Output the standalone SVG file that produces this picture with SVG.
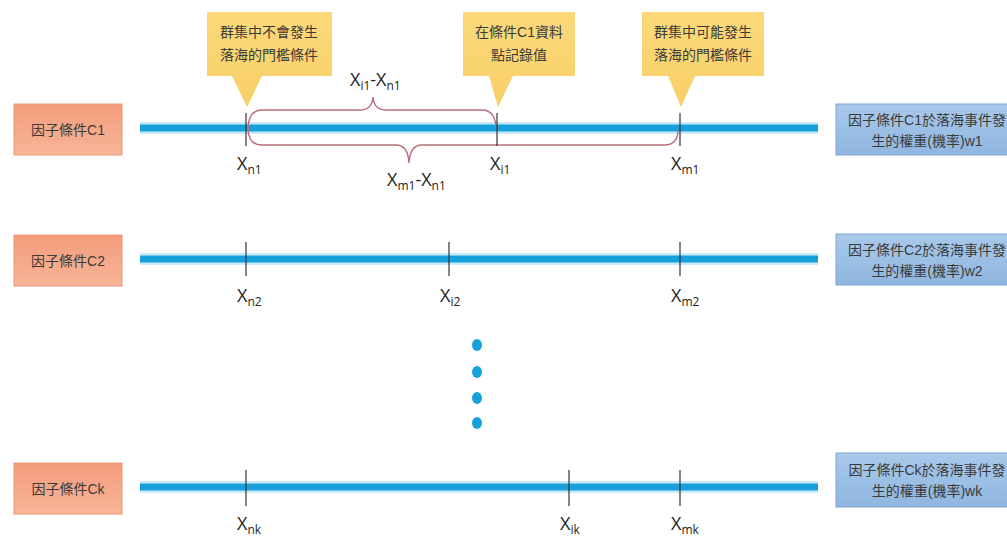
<svg xmlns="http://www.w3.org/2000/svg" width="1007" height="539" viewBox="0 0 1007 539">
<defs>
<linearGradient id="gOrange" x1="0" y1="0" x2="0" y2="1"><stop offset="0" stop-color="#f39c7c"/><stop offset="1" stop-color="#f8b597"/></linearGradient>
<linearGradient id="gBlue" x1="0" y1="0" x2="0" y2="1"><stop offset="0" stop-color="#a9c9ea"/><stop offset="1" stop-color="#8fb6e0"/></linearGradient>
<linearGradient id="gYellow" x1="0" y1="0" x2="0" y2="1"><stop offset="0" stop-color="#fbd97a"/><stop offset="1" stop-color="#f8cf68"/></linearGradient>
</defs>
<style>
.cjk{font-family:"Liberation Sans","Noto Sans CJK TC",sans-serif;fill:#3a3a3a}
.lbl{font-family:"Open Sans","Liberation Sans",sans-serif;font-size:18px;fill:#222}
.sub{font-size:12px}
.halo{stroke:#c9ebf8;stroke-width:12;fill:none}
.axis{stroke:#16a1dc;stroke-width:7;fill:none}
.tick{stroke:#333;stroke-width:1.2}
.brace{stroke:#b8707c;stroke-width:1.4;fill:none}
.lbox{fill:url(#gOrange);stroke:#e89a78;stroke-width:1}
.rbox{fill:url(#gBlue);stroke:#7ea6d3;stroke-width:1}
.callout{fill:url(#gYellow);stroke:none}
</style>

<g id="connectors">
<line class="halo" x1="140" y1="128" x2="818" y2="128"/>
<line class="axis" x1="140" y1="128" x2="818" y2="128"/>
<line class="halo" x1="140" y1="259" x2="818" y2="259"/>
<line class="axis" x1="140" y1="259" x2="818" y2="259"/>
<line class="halo" x1="140" y1="487" x2="818" y2="487"/>
<line class="axis" x1="140" y1="487" x2="818" y2="487"/>
<path class="brace" d="M248,130 Q248,110 262,110 L360,110 Q372,110 373,97 Q374,110 386,110 L482,110 Q496,110 496,130"/>
<path class="brace" d="M248,128 Q248,145 262,145 L396,145 Q408,145 409,163 Q410,145 422,145 L664,145 Q678,145 678,130"/>
</g>

<g id="ticks">
<line class="tick" x1="246" y1="113" x2="246" y2="146"/>
<line class="tick" x1="497" y1="113" x2="497" y2="146"/>
<line class="tick" x1="680" y1="113" x2="680" y2="146"/>
<line class="tick" x1="246" y1="242" x2="246" y2="276"/>
<line class="tick" x1="449" y1="242" x2="449" y2="276"/>
<line class="tick" x1="680" y1="242" x2="680" y2="276"/>
<line class="tick" x1="246" y1="470" x2="246" y2="506"/>
<line class="tick" x1="569" y1="470" x2="569" y2="506"/>
<line class="tick" x1="680" y1="470" x2="680" y2="506"/>
</g>

<g id="tick-labels">
<text class="lbl" x="237" y="170">X<tspan class="sub" dy="4">n1</tspan></text>
<text class="lbl" x="490" y="170">X<tspan class="sub" dy="4">i1</tspan></text>
<text class="lbl" x="671" y="170">X<tspan class="sub" dy="4">m1</tspan></text>
<text class="lbl" x="350" y="86">X<tspan class="sub" dy="4">i1</tspan><tspan dy="-4">-X</tspan><tspan class="sub" dy="4">n1</tspan></text>
<text class="lbl" x="387" y="186">X<tspan class="sub" dy="4">m1</tspan><tspan dy="-4">-X</tspan><tspan class="sub" dy="4">n1</tspan></text>
<text class="lbl" x="237" y="302">X<tspan class="sub" dy="4">n2</tspan></text>
<text class="lbl" x="440" y="302">X<tspan class="sub" dy="4">i2</tspan></text>
<text class="lbl" x="671" y="302">X<tspan class="sub" dy="4">m2</tspan></text>
<text class="lbl" x="237" y="530">X<tspan class="sub" dy="4">nk</tspan></text>
<text class="lbl" x="560" y="530">X<tspan class="sub" dy="4">ik</tspan></text>
<text class="lbl" x="671" y="530">X<tspan class="sub" dy="4">mk</tspan></text>
</g>

<g id="callout-1">
<path class="callout" d="M207,12 H332 V76 H262 L247,107 L232,76 H207 Z"/>
<text class="cjk" font-size="14" text-anchor="middle" x="269" y="37">群集中不會發生</text>
<text class="cjk" font-size="14" text-anchor="middle" x="269" y="60">落海的門檻條件</text>
</g>
<g id="callout-2">
<path class="callout" d="M463,12 H575 V76 H513 L498,107 L489,76 H463 Z"/>
<text class="cjk" font-size="14" text-anchor="middle" x="519" y="37">在條件C1資料</text>
<text class="cjk" font-size="14" text-anchor="middle" x="519" y="60">點記錄值</text>
</g>
<g id="callout-3">
<path class="callout" d="M642,12 H764 V76 H695 L681,107 L668,76 H642 Z"/>
<text class="cjk" font-size="14" text-anchor="middle" x="703" y="37">群集中可能發生</text>
<text class="cjk" font-size="14" text-anchor="middle" x="703" y="60">落海的門檻條件</text>
</g>

<g id="factor-c1">
<rect class="lbox" x="14" y="104" width="108" height="51"/>
<text class="cjk" font-size="14" text-anchor="middle" x="68" y="135">因子條件C1</text>
</g>
<g id="factor-c2">
<rect class="lbox" x="14" y="235" width="108" height="51"/>
<text class="cjk" font-size="14" text-anchor="middle" x="68" y="266">因子條件C2</text>
</g>
<g id="factor-ck">
<rect class="lbox" x="14" y="463" width="108" height="51"/>
<text class="cjk" font-size="14" text-anchor="middle" x="68" y="494">因子條件Ck</text>
</g>

<g id="weight-w1">
<rect class="rbox" x="836" y="104" width="180" height="51"/>
<text class="cjk" font-size="14" text-anchor="middle" x="927" y="125">因子條件C1於落海事件發</text>
<text class="cjk" font-size="14" text-anchor="middle" x="927" y="146">生的權重(機率)w1</text>
</g>
<g id="weight-w2">
<rect class="rbox" x="836" y="234" width="180" height="51"/>
<text class="cjk" font-size="14" text-anchor="middle" x="927" y="255">因子條件C2於落海事件發</text>
<text class="cjk" font-size="14" text-anchor="middle" x="927" y="276">生的權重(機率)w2</text>
</g>
<g id="weight-wk">
<rect class="rbox" x="836" y="453" width="180" height="54"/>
<text class="cjk" font-size="14" text-anchor="middle" x="927" y="475">因子條件Ck於落海事件發</text>
<text class="cjk" font-size="14" text-anchor="middle" x="927" y="496">生的權重(機率)wk</text>
</g>

<g id="ellipsis" fill="#16a1dc">
<ellipse cx="477" cy="345" rx="5" ry="6"/>
<ellipse cx="477" cy="372" rx="5" ry="6"/>
<ellipse cx="477" cy="398" rx="5" ry="6"/>
<ellipse cx="477" cy="423" rx="5" ry="6"/>
</g>
</svg>
